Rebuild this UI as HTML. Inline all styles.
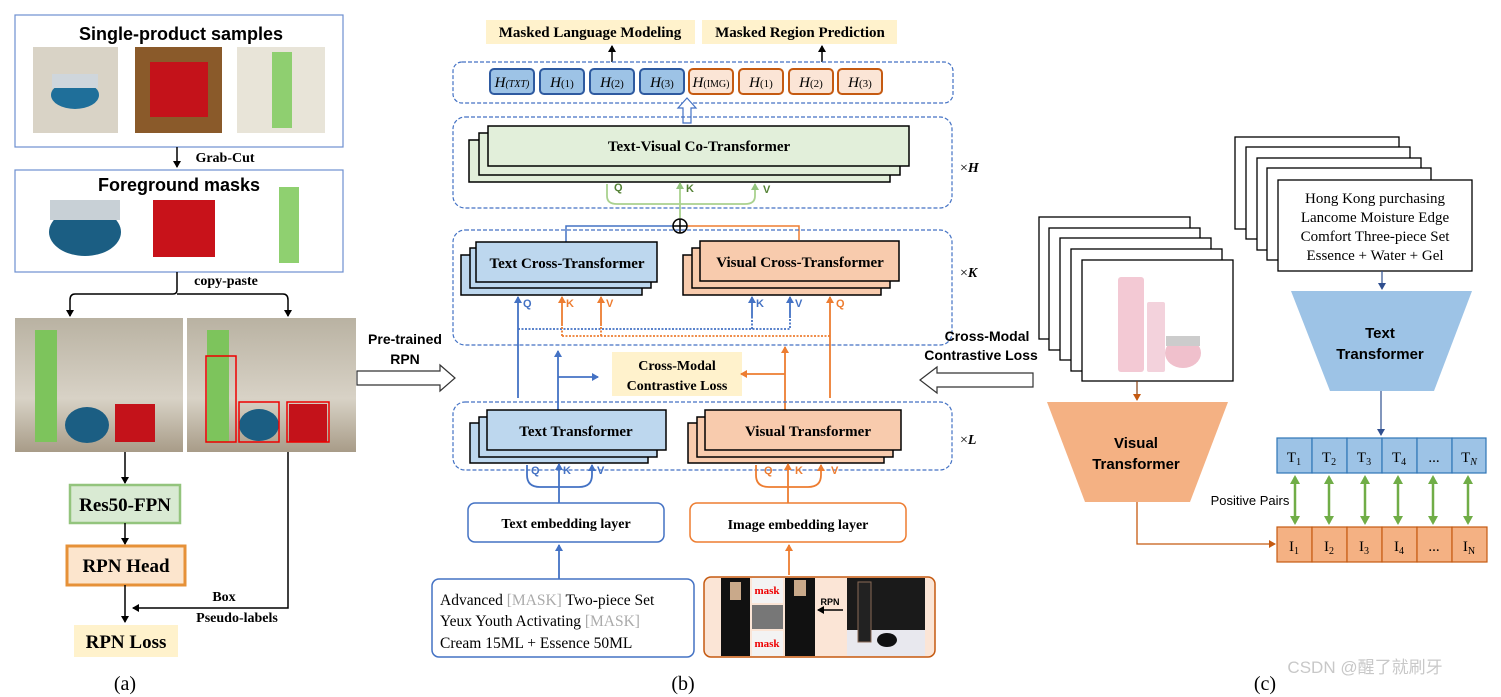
<!DOCTYPE html>
<html><head><meta charset="utf-8"><style>
html,body{margin:0;padding:0;background:#fff}
svg{display:block}
.s{font-family:"Liberation Serif",serif}
.a{font-family:"Liberation Sans",sans-serif}
</style></head><body>
<svg width="1501" height="697" viewBox="0 0 1501 697" xmlns="http://www.w3.org/2000/svg">
<defs>
<marker id="ak" markerWidth="8" markerHeight="8" refX="6" refY="4" orient="auto" markerUnits="userSpaceOnUse"><path d="M0,0 L7,4 L0,8z" fill="#000"/></marker>
<marker id="ab" markerWidth="8" markerHeight="8" refX="6" refY="4" orient="auto" markerUnits="userSpaceOnUse"><path d="M0,0 L7,4 L0,8z" fill="#4472c4"/></marker>
<marker id="ao" markerWidth="8" markerHeight="8" refX="6" refY="4" orient="auto" markerUnits="userSpaceOnUse"><path d="M0,0 L7,4 L0,8z" fill="#ed7d31"/></marker>
<marker id="ag" markerWidth="8" markerHeight="8" refX="6" refY="4" orient="auto" markerUnits="userSpaceOnUse"><path d="M0,0 L7,4 L0,8z" fill="#93c47d"/></marker>
<marker id="aG" markerWidth="10" markerHeight="10" refX="7" refY="5" orient="auto-start-reverse" markerUnits="userSpaceOnUse"><path d="M0,0 L9,5 L0,10z" fill="#70ad47"/></marker>
<marker id="an" markerWidth="8" markerHeight="8" refX="6" refY="4" orient="auto" markerUnits="userSpaceOnUse"><path d="M0,0 L7,4 L0,8z" fill="#2f4f8f"/></marker>
<marker id="ar" markerWidth="8" markerHeight="8" refX="6" refY="4" orient="auto" markerUnits="userSpaceOnUse"><path d="M0,0 L7,4 L0,8z" fill="#c55a11"/></marker>
<linearGradient id="room" x1="0" y1="0" x2="0" y2="1"><stop offset="0" stop-color="#b9b2a2"/><stop offset="0.6" stop-color="#d8d2c6"/><stop offset="1" stop-color="#a89c88"/></linearGradient>
</defs>

<!-- ===== (a) ===== -->
<rect x="15" y="15" width="328" height="132" fill="#fff" stroke="#6d8fd0" stroke-width="1.2"/>
<text x="181" y="40" text-anchor="middle" class="a" font-weight="bold" font-size="18">Single-product samples</text>
<rect x="33" y="47" width="85" height="86" fill="#d9d3c6"/><ellipse cx="75" cy="95" rx="24" ry="14" fill="#1f6f9a"/><rect x="52" y="74" width="46" height="14" fill="#cfd6dc"/>
<rect x="135" y="47" width="87" height="86" fill="#8a5a2a"/><rect x="150" y="62" width="58" height="55" fill="#c4121a"/>
<rect x="237" y="47" width="88" height="86" fill="#e8e4d8"/><rect x="272" y="52" width="20" height="76" fill="#8fcf70"/>
<line x1="177" y1="147" x2="177" y2="167" stroke="#000" stroke-width="1.5" marker-end="url(#ak)"/>
<text x="225" y="162" text-anchor="middle" class="s" font-weight="bold" font-size="14">Grab-Cut</text>
<rect x="15" y="170" width="328" height="102" fill="#fff" stroke="#6d8fd0" stroke-width="1.2"/>
<text x="179" y="191" text-anchor="middle" class="a" font-weight="bold" font-size="18">Foreground masks</text>
<ellipse cx="85" cy="232" rx="36" ry="24" fill="#1b5e83"/><rect x="50" y="200" width="70" height="20" fill="#c8d0d6"/>
<rect x="153" y="200" width="62" height="57" fill="#c8121a"/>
<rect x="279" y="187" width="20" height="76" fill="#8fd070"/>
<text x="226" y="285" text-anchor="middle" class="s" font-weight="bold" font-size="14">copy-paste</text>
<path d="M177,272 L177,290 Q177,294 173,294 L75,294 Q70,294 70,300 L70,316" fill="none" stroke="#000" stroke-width="1.5" marker-end="url(#ak)"/>
<path d="M177,294 L283,294 Q288,294 288,300 L288,316" fill="none" stroke="#000" stroke-width="1.5" marker-end="url(#ak)"/>
<rect x="15" y="318" width="168" height="134" fill="url(#room)"/>
<rect x="35" y="330" width="22" height="112" fill="#7dc45c"/><ellipse cx="87" cy="425" rx="22" ry="18" fill="#1b5e83"/><rect x="115" y="404" width="40" height="38" fill="#c4121a"/>
<rect x="187" y="318" width="169" height="134" fill="url(#room)"/>
<rect x="207" y="330" width="22" height="112" fill="#7dc45c"/><ellipse cx="259" cy="425" rx="20" ry="16" fill="#1b5e83"/><rect x="289" y="404" width="38" height="38" fill="#c4121a"/>
<rect x="206" y="356" width="30" height="86" fill="none" stroke="#e00" stroke-width="1.5"/><rect x="239" y="402" width="40" height="40" fill="none" stroke="#e00" stroke-width="1.5"/><rect x="287" y="402" width="42" height="40" fill="none" stroke="#e00" stroke-width="1.5"/>
<line x1="125" y1="452" x2="125" y2="483" stroke="#000" stroke-width="1.5" marker-end="url(#ak)"/>
<rect x="70" y="485" width="110" height="38" fill="#d9ead3" stroke="#93c47d" stroke-width="2.5"/>
<text x="125" y="511" text-anchor="middle" class="s" font-weight="bold" font-size="19">Res50-FPN</text>
<line x1="125" y1="523" x2="125" y2="544" stroke="#000" stroke-width="1.5" marker-end="url(#ak)"/>
<rect x="67" y="546" width="118" height="39" fill="#fce5cd" stroke="#e69138" stroke-width="3"/>
<text x="126" y="572" text-anchor="middle" class="s" font-weight="bold" font-size="19">RPN Head</text>
<line x1="125" y1="585" x2="125" y2="622" stroke="#000" stroke-width="1.5" marker-end="url(#ak)"/>
<path d="M288,452 L288,608 L133,608" fill="none" stroke="#000" stroke-width="1.5" marker-end="url(#ak)"/>
<text x="224" y="601" text-anchor="middle" class="s" font-weight="bold" font-size="14">Box</text>
<text x="237" y="622" text-anchor="middle" class="s" font-weight="bold" font-size="14">Pseudo-labels</text>
<rect x="74" y="625" width="104" height="32" fill="#fff2cc"/>
<text x="126" y="648" text-anchor="middle" class="s" font-weight="bold" font-size="19">RPN Loss</text>
<text x="125" y="690" text-anchor="middle" class="s" font-size="20">(a)</text>

<!-- pretrained arrow -->
<text x="405" y="344" text-anchor="middle" class="a" font-weight="bold" font-size="14">Pre-trained</text>
<text x="405" y="364" text-anchor="middle" class="a" font-weight="bold" font-size="14">RPN</text>
<path d="M357,371 L440,371 L440,365 L455,378 L440,391 L440,385 L357,385z" fill="#fff" stroke="#333" stroke-width="1.2"/>

<!-- ===== (b) ===== -->
<rect x="486" y="20" width="209" height="24" fill="#fff2cc"/>
<text x="590" y="37" text-anchor="middle" class="s" font-weight="bold" font-size="15">Masked Language Modeling</text>
<rect x="702" y="20" width="195" height="24" fill="#fff2cc"/>
<text x="800" y="37" text-anchor="middle" class="s" font-weight="bold" font-size="15">Masked Region Prediction</text>
<line x1="612" y1="62" x2="612" y2="46" stroke="#000" stroke-width="1.5" marker-end="url(#ak)"/>
<line x1="822" y1="62" x2="822" y2="46" stroke="#000" stroke-width="1.5" marker-end="url(#ak)"/>
<rect x="453" y="62" width="500" height="41" rx="9" fill="none" stroke="#4472c4" stroke-width="1.2" stroke-dasharray="4,2"/>
<g class="s" font-style="italic" font-size="15">
<rect x="490" y="69" width="44" height="25" rx="4" fill="#9dc3e6" stroke="#2e5aa0" stroke-width="2"/><text x="512" y="87" text-anchor="middle">H<tspan font-size="10">(TXT)</tspan></text>
<rect x="540" y="69" width="44" height="25" rx="4" fill="#9dc3e6" stroke="#2e5aa0" stroke-width="2"/><text x="562" y="87" text-anchor="middle">H<tspan font-size="11" font-style="normal">(1)</tspan></text>
<rect x="590" y="69" width="44" height="25" rx="4" fill="#9dc3e6" stroke="#2e5aa0" stroke-width="2"/><text x="612" y="87" text-anchor="middle">H<tspan font-size="11" font-style="normal">(2)</tspan></text>
<rect x="640" y="69" width="44" height="25" rx="4" fill="#9dc3e6" stroke="#2e5aa0" stroke-width="2"/><text x="662" y="87" text-anchor="middle">H<tspan font-size="11" font-style="normal">(3)</tspan></text>
<rect x="689" y="69" width="44" height="25" rx="4" fill="#fbe5d6" stroke="#c55a11" stroke-width="2"/><text x="711" y="87" text-anchor="middle">H<tspan font-size="10" font-style="normal">(IMG)</tspan></text>
<rect x="739" y="69" width="44" height="25" rx="4" fill="#fbe5d6" stroke="#c55a11" stroke-width="2"/><text x="761" y="87" text-anchor="middle">H<tspan font-size="11" font-style="normal">(1)</tspan></text>
<rect x="789" y="69" width="44" height="25" rx="4" fill="#fbe5d6" stroke="#c55a11" stroke-width="2"/><text x="811" y="87" text-anchor="middle">H<tspan font-size="11" font-style="normal">(2)</tspan></text>
<rect x="838" y="69" width="44" height="25" rx="4" fill="#fbe5d6" stroke="#c55a11" stroke-width="2"/><text x="860" y="87" text-anchor="middle">H<tspan font-size="11" font-style="normal">(3)</tspan></text>
</g>
<path d="M683,123 L683,108 L678,108 L687,98 L696,108 L691,108 L691,123z" fill="#fff" stroke="#4472c4" stroke-width="1.2"/>

<rect x="453" y="117" width="499" height="91" rx="12" fill="none" stroke="#4472c4" stroke-width="1.2" stroke-dasharray="4,2"/>
<rect x="469" y="140" width="421" height="42" fill="#e2efda" stroke="#000" stroke-width="1.5"/>
<rect x="479" y="133" width="421" height="42" fill="#e2efda" stroke="#000" stroke-width="1.5"/>
<rect x="488" y="126" width="421" height="40" fill="#e2efda" stroke="#000" stroke-width="1.5"/>
<text x="699" y="151" text-anchor="middle" class="s" font-weight="bold" font-size="15">Text-Visual Co-Transformer</text>
<g stroke="#a9d18e" stroke-width="1.8" fill="none">
<line x1="680" y1="218" x2="680" y2="183" marker-end="url(#ag)"/>
<path d="M607,184 L607,196 Q607,204 617,204 L745,204 Q755,204 755,196 L755,184" marker-end="url(#ag)"/>
</g>
<g class="a" font-weight="bold" font-size="11" fill="#548235"><text x="614" y="191">Q</text><text x="686" y="192">K</text><text x="763" y="193">V</text></g>
<path d="M566,242 L566,226 L673,226" fill="none" stroke="#4472c4" stroke-width="1.5"/>
<path d="M687,226 L799,226 L799,240" fill="none" stroke="#ed7d31" stroke-width="1.5"/>
<circle cx="680" cy="226" r="7" fill="#fff" stroke="#000" stroke-width="1.5"/>
<path d="M673,226 L687,226 M680,219 L680,233" stroke="#000" stroke-width="1.5"/>

<rect x="453" y="230" width="499" height="115" rx="12" fill="none" stroke="#4472c4" stroke-width="1.2" stroke-dasharray="4,2"/>
<rect x="461" y="255" width="181" height="40" fill="#bdd7ee" stroke="#000" stroke-width="1.5"/>
<rect x="470" y="248" width="181" height="40" fill="#bdd7ee" stroke="#000" stroke-width="1.5"/>
<rect x="476" y="242" width="181" height="40" fill="#bdd7ee" stroke="#000" stroke-width="1.5"/>
<text x="567" y="268" text-anchor="middle" class="s" font-weight="bold" font-size="15">Text Cross-Transformer</text>
<rect x="683" y="255" width="198" height="40" fill="#f8cbad" stroke="#000" stroke-width="1.5"/>
<rect x="692" y="248" width="198" height="40" fill="#f8cbad" stroke="#000" stroke-width="1.5"/>
<rect x="700" y="241" width="199" height="40" fill="#f8cbad" stroke="#000" stroke-width="1.5"/>
<text x="800" y="267" text-anchor="middle" class="s" font-weight="bold" font-size="15">Visual Cross-Transformer</text>
<g stroke-width="1.8" fill="none">
<line x1="518" y1="398" x2="518" y2="297" stroke="#4472c4" marker-end="url(#ab)"/>
<line x1="830" y1="398" x2="830" y2="297" stroke="#ed7d31" marker-end="url(#ao)"/>
<line x1="752" y1="318" x2="752" y2="297" stroke="#4472c4" marker-end="url(#ab)"/>
<line x1="790" y1="318" x2="790" y2="297" stroke="#4472c4" marker-end="url(#ab)"/>
<line x1="562" y1="326" x2="562" y2="297" stroke="#ed7d31" marker-end="url(#ao)"/>
<line x1="601" y1="326" x2="601" y2="297" stroke="#ed7d31" marker-end="url(#ao)"/>
<path d="M518,329 L790,329 L790,318 M752,329 L752,318" stroke="#4472c4" stroke-dasharray="2,1.5"/>
<path d="M562,336 L830,336 M601,336 L601,326 M562,336 L562,326" stroke="#ed7d31" stroke-dasharray="2,1.5"/>
</g>
<g class="a" font-weight="bold" font-size="11"><text x="523" y="307" fill="#4472c4">Q</text><text x="566" y="307" fill="#ed7d31">K</text><text x="606" y="307" fill="#ed7d31">V</text><text x="756" y="307" fill="#4472c4">K</text><text x="795" y="307" fill="#4472c4">V</text><text x="836" y="307" fill="#ed7d31">Q</text></g>

<rect x="612" y="352" width="130" height="44" fill="#fff2cc"/>
<text x="677" y="370" text-anchor="middle" class="s" font-weight="bold" font-size="14">Cross-Modal</text>
<text x="677" y="390" text-anchor="middle" class="s" font-weight="bold" font-size="14">Contrastive Loss</text>
<g stroke-width="1.8" fill="none">
<line x1="558" y1="410" x2="558" y2="351" stroke="#4472c4" marker-end="url(#ab)"/>
<line x1="558" y1="377" x2="598" y2="377" stroke="#4472c4" marker-end="url(#ab)"/>
<line x1="785" y1="410" x2="785" y2="347" stroke="#ed7d31" marker-end="url(#ao)"/>
<line x1="785" y1="374" x2="741" y2="374" stroke="#ed7d31" marker-end="url(#ao)"/>
</g>
<path d="M1033,373 L937,373 L937,367 L920,380 L937,393 L937,387 L1033,387z" fill="#fff" stroke="#333" stroke-width="1.2"/>
<text x="987" y="341" text-anchor="middle" class="a" font-weight="bold" font-size="14">Cross-Modal</text>
<text x="981" y="360" text-anchor="middle" class="a" font-weight="bold" font-size="14">Contrastive Loss</text>

<rect x="453" y="402" width="499" height="68" rx="12" fill="none" stroke="#4472c4" stroke-width="1.2" stroke-dasharray="4,2"/>
<rect x="470" y="423" width="178" height="40" fill="#bdd7ee" stroke="#000" stroke-width="1.5"/>
<rect x="479" y="417" width="178" height="40" fill="#bdd7ee" stroke="#000" stroke-width="1.5"/>
<rect x="487" y="410" width="179" height="40" fill="#bdd7ee" stroke="#000" stroke-width="1.5"/>
<text x="576" y="436" text-anchor="middle" class="s" font-weight="bold" font-size="15">Text Transformer</text>
<rect x="688" y="423" width="196" height="40" fill="#f8cbad" stroke="#000" stroke-width="1.5"/>
<rect x="697" y="417" width="196" height="40" fill="#f8cbad" stroke="#000" stroke-width="1.5"/>
<rect x="705" y="410" width="196" height="40" fill="#f8cbad" stroke="#000" stroke-width="1.5"/>
<text x="808" y="436" text-anchor="middle" class="s" font-weight="bold" font-size="15">Visual Transformer</text>
<g stroke-width="1.8" fill="none">
<line x1="559" y1="503" x2="559" y2="464" stroke="#4472c4" marker-end="url(#ab)"/>
<path d="M527,465 L527,475 Q527,487 540,487 L579,487 Q592,487 592,475 L592,465" stroke="#4472c4" marker-end="url(#ab)"/>
<line x1="788" y1="503" x2="788" y2="464" stroke="#ed7d31" marker-end="url(#ao)"/>
<path d="M756,465 L756,475 Q756,487 769,487 L808,487 Q821,487 821,475 L821,465" stroke="#ed7d31" marker-end="url(#ao)"/>
</g>
<g class="a" font-weight="bold" font-size="11"><text x="531" y="474" fill="#4472c4">Q</text><text x="563" y="474" fill="#4472c4">K</text><text x="597" y="474" fill="#4472c4">V</text><text x="764" y="474" fill="#ed7d31">Q</text><text x="795" y="474" fill="#ed7d31">K</text><text x="831" y="474" fill="#ed7d31">V</text></g>
<text x="960" y="172" class="s" font-size="14">×<tspan font-style="italic" font-weight="bold">H</tspan></text>
<text x="960" y="277" class="s" font-size="14">×<tspan font-style="italic" font-weight="bold">K</tspan></text>
<text x="960" y="444" class="s" font-size="14">×<tspan font-style="italic" font-weight="bold">L</tspan></text>

<rect x="468" y="503" width="196" height="39" rx="7" fill="#fff" stroke="#4472c4" stroke-width="1.5"/>
<text x="566" y="528" text-anchor="middle" class="s" font-weight="bold" font-size="14">Text embedding layer</text>
<rect x="690" y="503" width="216" height="39" rx="7" fill="#fff" stroke="#ed7d31" stroke-width="1.5"/>
<text x="798" y="529" text-anchor="middle" class="s" font-weight="bold" font-size="14">Image embedding layer</text>
<line x1="559" y1="579" x2="559" y2="545" stroke="#4472c4" stroke-width="1.8" marker-end="url(#ab)"/>
<line x1="789" y1="575" x2="789" y2="545" stroke="#ed7d31" stroke-width="1.8" marker-end="url(#ao)"/>
<rect x="432" y="579" width="262" height="78" rx="7" fill="#fff" stroke="#4472c4" stroke-width="1.5"/>
<g class="s" font-size="15.5"><text x="440" y="605">Advanced <tspan fill="#aaa">[MASK]</tspan> Two-piece Set</text><text x="440" y="626">Yeux Youth Activating <tspan fill="#aaa">[MASK]</tspan></text><text x="440" y="648">Cream 15ML + Essence 50ML</text></g>
<rect x="704" y="577" width="231" height="80" rx="7" fill="#fbe5d6" stroke="#c55a11" stroke-width="1.5"/>
<rect x="721" y="578" width="29" height="78" fill="#111"/><rect x="730" y="582" width="11" height="18" fill="#c9a98a"/>
<rect x="752" y="578" width="31" height="25" fill="#f3f3f3"/><text x="767" y="594" text-anchor="middle" class="s" font-weight="bold" font-size="11" fill="#e00">mask</text>
<rect x="752" y="605" width="31" height="24" fill="#777"/>
<rect x="752" y="631" width="31" height="25" fill="#f3f3f3"/><text x="767" y="647" text-anchor="middle" class="s" font-weight="bold" font-size="11" fill="#e00">mask</text>
<rect x="785" y="578" width="30" height="78" fill="#111"/><rect x="794" y="580" width="12" height="16" fill="#c9a98a"/>
<line x1="843" y1="610" x2="818" y2="610" stroke="#000" stroke-width="1.5" marker-end="url(#ak)"/>
<text x="830" y="605" text-anchor="middle" class="a" font-weight="bold" font-size="9">RPN</text>
<rect x="847" y="578" width="78" height="78" fill="#1a1a1a"/><rect x="847" y="630" width="78" height="26" fill="#e8e8ee"/><rect x="858" y="582" width="13" height="60" fill="#222" stroke="#8a6a55"/><ellipse cx="887" cy="640" rx="10" ry="7" fill="#111"/>
<text x="683" y="690" text-anchor="middle" class="s" font-size="20">(b)</text>

<!-- ===== (c) ===== -->
<g fill="#fff" stroke="#000" stroke-width="1.3">
<rect x="1039" y="217" width="151" height="122"/><rect x="1049" y="228" width="151" height="122"/><rect x="1060" y="238" width="151" height="122"/><rect x="1071" y="249" width="151" height="122"/><rect x="1082" y="260" width="151" height="121"/>
</g>
<rect x="1118" y="277" width="26" height="95" rx="3" fill="#f3c9d4"/><rect x="1147" y="302" width="18" height="70" rx="2" fill="#f3d2dc"/><ellipse cx="1183" cy="353" rx="18" ry="15" fill="#f0c0cc"/><rect x="1166" y="336" width="34" height="10" fill="#ccc"/>
<g fill="#fff" stroke="#000" stroke-width="1.3">
<rect x="1235" y="137" width="164" height="92"/><rect x="1246" y="147" width="164" height="92"/><rect x="1257" y="158" width="164" height="92"/><rect x="1267" y="168" width="164" height="92"/><rect x="1278" y="180" width="194" height="91"/>
</g>
<g class="s" font-size="15" text-anchor="middle"><text x="1375" y="203">Hong Kong purchasing</text><text x="1375" y="222">Lancome Moisture Edge</text><text x="1375" y="241">Comfort Three-piece Set</text><text x="1375" y="260">Essence + Water + Gel</text></g>
<line x1="1382" y1="271" x2="1382" y2="289" stroke="#2f4f8f" stroke-width="1.2" marker-end="url(#an)"/>
<polygon points="1291,291 1472,291 1434,391 1330,391" fill="#9dc3e6"/>
<text x="1380" y="338" text-anchor="middle" class="a" font-weight="bold" font-size="15">Text</text>
<text x="1380" y="359" text-anchor="middle" class="a" font-weight="bold" font-size="15">Transformer</text>
<line x1="1381" y1="391" x2="1381" y2="435" stroke="#2f4f8f" stroke-width="1.2" marker-end="url(#an)"/>
<line x1="1137" y1="381" x2="1137" y2="400" stroke="#843c0c" stroke-width="1.2" marker-end="url(#ar)"/>
<polygon points="1047,402 1228,402 1190,502 1085,502" fill="#f4b183"/>
<text x="1136" y="448" text-anchor="middle" class="a" font-weight="bold" font-size="15">Visual</text>
<text x="1136" y="469" text-anchor="middle" class="a" font-weight="bold" font-size="15">Transformer</text>
<path d="M1137,502 L1137,544 L1275,544" fill="none" stroke="#c55a11" stroke-width="1.3" marker-end="url(#ar)"/>
<g stroke="#2e75b6" stroke-width="1.2" fill="#9dc3e6">
<rect x="1277" y="438" width="35" height="35"/><rect x="1312" y="438" width="35" height="35"/><rect x="1347" y="438" width="35" height="35"/><rect x="1382" y="438" width="35" height="35"/><rect x="1417" y="438" width="35" height="35"/><rect x="1452" y="438" width="34" height="35"/>
</g>
<g stroke="#c55a11" stroke-width="1.2" fill="#f4b183">
<rect x="1277" y="527" width="35" height="35"/><rect x="1312" y="527" width="35" height="35"/><rect x="1347" y="527" width="35" height="35"/><rect x="1382" y="527" width="35" height="35"/><rect x="1417" y="527" width="35" height="35"/><rect x="1452" y="527" width="35" height="35"/>
</g>
<g class="s" font-size="15" text-anchor="middle">
<text x="1294" y="462">T<tspan font-size="10" dy="3">1</tspan></text><text x="1329" y="462">T<tspan font-size="10" dy="3">2</tspan></text><text x="1364" y="462">T<tspan font-size="10" dy="3">3</tspan></text><text x="1399" y="462">T<tspan font-size="10" dy="3">4</tspan></text><text x="1434" y="462">...</text><text x="1469" y="462">T<tspan font-size="10" dy="3" font-style="italic">N</tspan></text>
<text x="1294" y="551">I<tspan font-size="10" dy="3">1</tspan></text><text x="1329" y="551">I<tspan font-size="10" dy="3">2</tspan></text><text x="1364" y="551">I<tspan font-size="10" dy="3">3</tspan></text><text x="1399" y="551">I<tspan font-size="10" dy="3">4</tspan></text><text x="1434" y="551">...</text><text x="1469" y="551">I<tspan font-size="10" dy="3">N</tspan></text>
</g>
<g stroke="#70ad47" stroke-width="2.5">
<line x1="1295" y1="477" x2="1295" y2="523" marker-start="url(#aG)" marker-end="url(#aG)"/>
<line x1="1329" y1="477" x2="1329" y2="523" marker-start="url(#aG)" marker-end="url(#aG)"/>
<line x1="1365" y1="477" x2="1365" y2="523" marker-start="url(#aG)" marker-end="url(#aG)"/>
<line x1="1398" y1="477" x2="1398" y2="523" marker-start="url(#aG)" marker-end="url(#aG)"/>
<line x1="1433" y1="477" x2="1433" y2="523" marker-start="url(#aG)" marker-end="url(#aG)"/>
<line x1="1468" y1="477" x2="1468" y2="523" marker-start="url(#aG)" marker-end="url(#aG)"/>
</g>
<text x="1250" y="505" text-anchor="middle" class="a" font-size="13">Positive Pairs</text>
<text x="1265" y="690" text-anchor="middle" class="s" font-size="20">(c)</text>
<text x="1365" y="673" text-anchor="middle" font-family="'Liberation Sans','Noto Sans CJK SC',sans-serif" font-size="17" fill="#c8c8c8">CSDN @醒了就刷牙</text>
</svg>
</body></html>
